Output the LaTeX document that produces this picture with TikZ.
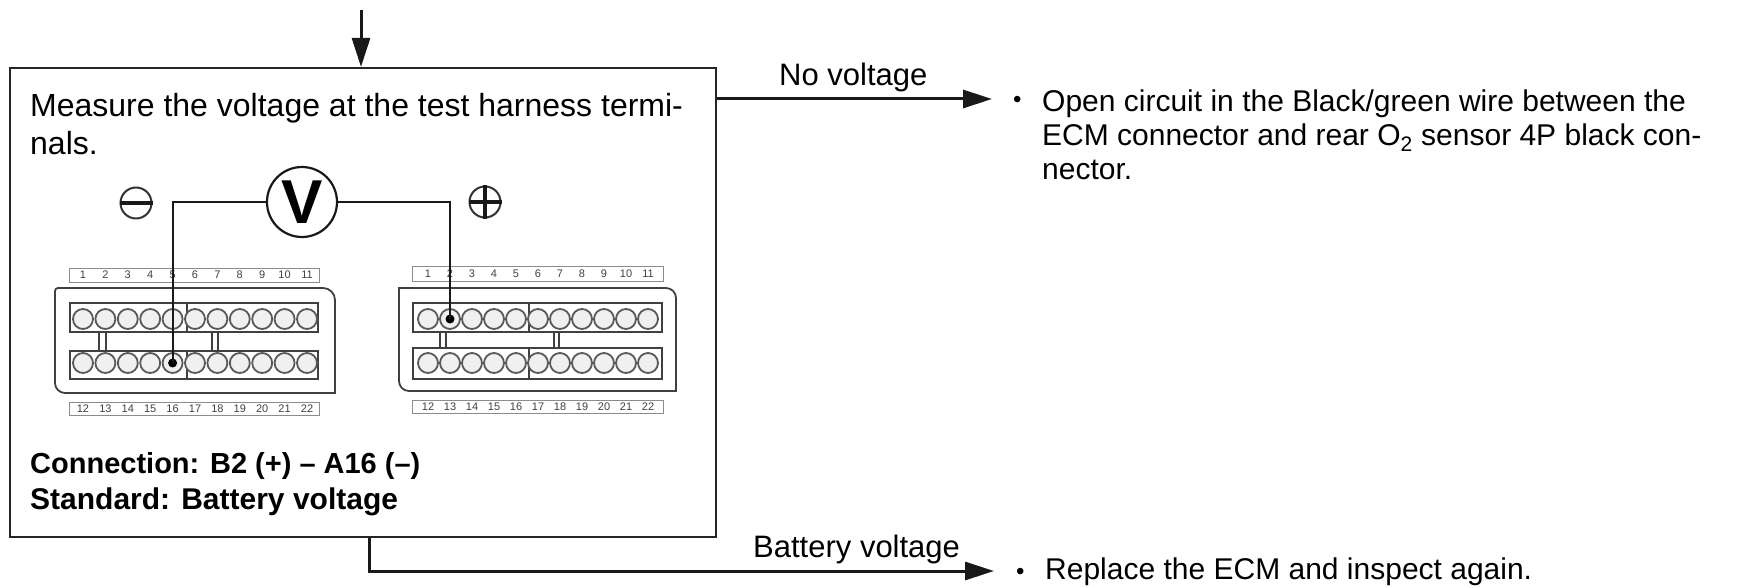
\documentclass[tikz,border=0pt]{standalone}
\usepackage{fontspec}
\setmainfont{Liberation Sans}
\usetikzlibrary{arrows.meta,positioning}

\tikzset{
  body/.style={font=\fontsize{30}{34}\selectfont,text=black,inner sep=0,align=left,anchor=west},
  bodybold/.style={body,font=\fontsize{29}{36}\selectfont\bfseries},
  num/.style={font=\fontsize{11}{11}\selectfont,text=black!75,inner sep=0},
  pinhole/.style={circle,draw=black!65,fill=black!6,line width=1.8pt,minimum size=20pt,inner sep=0},
  wire/.style={black!90,line width=1.8pt},
  flow/.style={black!90,line width=3pt,-{Triangle[length=29pt,width=18pt]}},
  part/.style={black!75,line width=1.8pt},
  sign/.style={circle,draw=black!80,line width=2pt,minimum size=31pt,inner sep=0}
}

\begin{document}
\begin{tikzpicture}[x=1pt,y=-1pt]
  \useasboundingbox (0,0) rectangle (1750,588);
  % test box and the flow arrows
  \node[draw=black!85,line width=2.2pt,minimum width=706pt,minimum height=469pt,inner sep=0] (testbox) at (363,302.5) {};
  \coordinate (intop) at (361,10);
  \coordinate (noend) at (992,99);
  \coordinate (yesturn) at (369,571);
  \coordinate (yesend) at (994,571);
  \draw[flow] (intop) -- (intop |- testbox.north);
  \draw[flow] (testbox.east |- noend) -- (noend);
  \draw[flow] (testbox.south -| yesturn) -- (yesturn) -- (yesend);
  \node[body,font=\fontsize{31}{34}\selectfont] (novolt) at (779,77) {No voltage};
  \node[body,font=\fontsize{31}{34}\selectfont] (batvolt) at (753,549) {Battery voltage};
  % texts
  \node[body,font=\fontsize{32}{38}\selectfont] (measure) at (30,124) {Measure the voltage at the test harness termi-\\nals.};
  \node[bodybold] (result) at (30,484) {Connection: B2 (+) -- A16 (--)\\\fontsize{30}{36}\selectfont Standard: Battery voltage};
  \node[body,font=\fontsize{24}{24}\selectfont] (opendot) at (1013,102) {•};
  \node[body] (opentext) at (1042,135) {Open circuit in the Black/green wire between the\\ECM connector and rear O\textsubscript{2} sensor 4P black con-\\nector.};
  \node[body,font=\fontsize{24}{24}\selectfont] (repdot) at (1016,574) {•};
  \node[body] (reptext) at (1045,572) {Replace the ECM and inspect again.};
  % connector outlines
  \draw[part] [rounded corners=3pt] (55,288) [rounded corners=10pt] -- (55,393) [sharp corners] -- (335,393) [rounded corners=12pt] -- (335,288) [rounded corners=3pt] -- cycle;
  \draw[part] (399,288) [rounded corners=10pt] -- (399,391) [sharp corners] -- (676,391) [rounded corners=10pt] -- (676,288) [sharp corners] -- cycle;
  \foreach \pre/\ox/\dx/\lx/\rx/\mx/\ty/\tb/\by/\bb/\ly in {A/83/22.4/70/318/187/268/282/402/415/351,B/428/22/413/662/529/266/281/400/413/348} {
    \draw[part] (\lx,303) rectangle (\rx,332);
    \draw[part] (\lx,\ly) rectangle (\rx,379);
    \draw[part] (\mx,303) -- (\mx,332);
    \draw[part] (\mx,\ly) -- (\mx,379);
    \draw[black!45,line width=1pt] (\lx-1,\ty) rectangle (\rx+1,\tb);
    \draw[black!45,line width=1pt] (\lx-1,\by) rectangle (\rx+1,\bb);
    \foreach \i in {0,...,10} {
      \pgfmathtruncatemacro{\upper}{\i+1}
      \pgfmathtruncatemacro{\lower}{\i+12}
      \node[pinhole] (pin\pre\upper) at ({\ox+\i*\dx},319) {};
      \node[pinhole] (pin\pre\lower) at ({\ox+\i*\dx},363) {};
      \node[num] (top\pre\upper) at ({\ox+\i*\dx},{(\ty+\tb)/2}) {\upper};
      \node[num] (bot\pre\lower) at ({\ox+\i*\dx},{(\by+\bb)/2}) {\lower};
    }
  }
  % bridges between the rows
  \foreach \xa/\xb/\ly in {99/106/351,212/218/351,440/446/348,554/559/348} {
    \draw[part] (\xa,332) -- (\xa,\ly);
    \draw[part] (\xb,332) -- (\xb,\ly);
  }
  % meter and leads
  \node[circle,draw=black!90,line width=2.2pt,minimum size=70pt,inner sep=0,font=\fontsize{62}{62}\selectfont\bfseries] (voltmeter) at (302,202) {V};
  \node[sign] (minus) at (136,203) {};
  \node[sign] (plus) at (485,202) {};
  \draw[black!90,line width=4pt] (minus.west) -- (minus.east);
  \draw[black!90,line width=3.5pt] (plus.west) -- (plus.east);
  \draw[black!90,line width=3.5pt] (plus.north) -- (plus.south);
  \fill[black] (pinA16) circle (4.5pt);
  \fill[black] (pinB2) circle (4.5pt);
  \draw[wire] (voltmeter.west) -| (pinA16.center);
  \draw[wire] (voltmeter.east) -| (pinB2.center);
\end{tikzpicture}
\end{document}
